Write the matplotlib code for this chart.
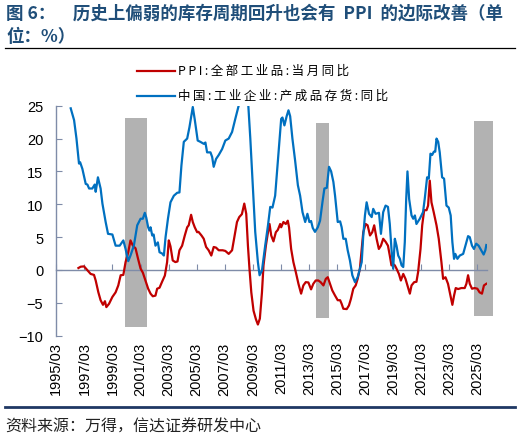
import matplotlib
matplotlib.use("Agg")
import matplotlib.pyplot as plt
from matplotlib.lines import Line2D

CJK = ['Noto Sans CJK SC', 'DejaVu Sans']
plt.rcParams['font.family'] = CJK
plt.rcParams['axes.unicode_minus'] = True

# ---------------- data (decimal years) ----------------
inv_x = [1996.19, 1996.43, 1996.60, 1996.78, 1996.86, 1997.02, 1997.26, 1997.38, 1997.50, 1997.73,
         1997.90, 1997.97, 1998.13, 1998.32, 1998.45, 1998.68, 1998.85, 1999.16, 1999.39, 1999.68,
         1999.94, 2000.10, 2000.29, 2000.45, 2000.69, 2000.93, 2001.17, 2001.33, 2001.47, 2001.57,
         2001.71, 2001.80, 2001.88, 2002.00, 2002.10, 2002.23, 2002.40, 2002.52, 2002.71, 2002.83,
         2002.95, 2003.12, 2003.30, 2003.54, 2003.78, 2003.94, 2004.08, 2004.25, 2004.49, 2004.65,
         2004.89, 2005.03, 2005.24, 2005.43, 2005.67, 2005.79, 2005.91, 2006.15, 2006.27, 2006.38,
         2006.55, 2006.74, 2006.98, 2007.21, 2007.45, 2007.69, 2007.92, 2008.16, 2008.35, 2008.55,
         2008.82, 2008.99, 2009.15, 2009.34, 2009.53, 2009.65, 2009.82, 2010.05, 2010.25, 2010.41,
         2010.57, 2010.76, 2011.02, 2011.19, 2011.28, 2011.42, 2011.58, 2011.71, 2011.83, 2011.99,
         2012.18, 2012.38, 2012.54, 2012.71, 2012.90, 2013.06, 2013.20, 2013.32, 2013.44, 2013.60,
         2013.80, 2013.96, 2014.13, 2014.27, 2014.44, 2014.60, 2014.75, 2014.91, 2015.03, 2015.22,
         2015.39, 2015.50, 2015.62, 2015.79, 2015.93, 2016.09, 2016.26, 2016.45, 2016.64, 2016.80,
         2016.93, 2017.04, 2017.16, 2017.28, 2017.45, 2017.64, 2017.75, 2017.92, 2018.16, 2018.30,
         2018.46, 2018.63, 2018.80, 2018.93, 2019.05, 2019.17, 2019.29, 2019.41, 2019.53, 2019.65,
         2019.77, 2019.89, 2020.00, 2020.10, 2020.19, 2020.31, 2020.48, 2020.60, 2020.72, 2020.83,
         2021.07, 2021.30, 2021.42, 2021.59, 2021.71, 2021.83, 2021.95, 2022.07, 2022.17, 2022.26,
         2022.38, 2022.49, 2022.66, 2022.80, 2022.97, 2023.13, 2023.27, 2023.39, 2023.51, 2023.60,
         2023.75, 2023.92, 2024.16, 2024.32, 2024.51, 2024.63, 2024.79, 2024.93, 2025.09, 2025.26,
         2025.45, 2025.62, 2025.74, 2025.81]
inv_y = [24.6, 22.8, 20.0, 16.2, 16.4, 15.4, 13.1, 13.0, 12.4, 12.4,
         13.0, 11.9, 14.1, 12.4, 10.1, 7.3, 5.5, 5.4, 3.7, 3.7,
         4.5, 3.2, 1.35, 2.2, 3.7, 6.8, 7.8, 7.8, 8.7, 8.0,
         6.5, 6.0, 6.5, 5.25, 5.4, 3.7, 4.2, 2.7, 2.5, 2.2,
         5.0, 7.8, 10.3, 11.3, 11.75, 11.8, 15.9, 19.5, 20.0, 21.7,
         24.8, 22.9, 19.7, 19.5, 19.2, 19.4, 17.9, 17.9, 17.2, 15.7,
         16.9, 17.5, 18.4, 19.7, 20.0, 21.0, 23.0, 25.0, 27.5, 28.5,
         26.0, 20.0, 13.4, 5.8, 1.2, -0.8, -0.1, 3.7, 6.8, 9.6,
         9.5, 11.3, 18.4, 23.0, 23.2, 22.0, 23.4, 24.3, 23.4, 20.0,
         16.7, 12.9, 11.3, 8.8, 7.3, 8.55, 7.3, 7.45, 6.4, 5.8,
         6.5, 7.5, 10.3, 12.4, 12.5, 15.7, 15.0, 13.4, 11.3, 7.3,
         7.4, 6.5, 4.75, 4.75, 3.0, 1.45, -0.8, -1.85, -1.1, 0.2,
         1.2, 5.25, 8.3, 10.3, 8.55, 8.05, 9.3, 8.55, 8.7, 5.5,
         8.8, 9.8, 9.6, 7.0, 3.2, 0.2, 4.75, 3.7, 2.2, 1.7,
         0.7, 0.45, 4.25, 10.8, 15.0, 10.8, 8.3, 7.8, 8.3, 7.0,
         7.8, 8.8, 10.8, 14.1, 13.9, 17.7, 17.5, 18.0, 18.0, 20.0,
         19.5, 17.9, 14.1, 13.9, 9.8, 9.5, 8.3, 4.25, 1.7, 2.45,
         1.7, 2.2, 2.45, 3.7, 5.15, 5.0, 3.7, 3.2, 4.0, 3.7,
         3.0, 2.35, 3.0, 3.8]

ppi_x = [1996.74, 1996.90, 1997.14, 1997.38, 1997.61, 1997.85, 1997.97, 1998.16, 1998.32, 1998.49,
         1998.63, 1998.73, 1998.92, 1999.16, 1999.39, 1999.58, 1999.75, 1999.94, 2000.10, 2000.29,
         2000.45, 2000.62, 2000.81, 2000.99, 2001.17, 2001.33, 2001.52, 2001.71, 2001.88, 2002.04,
         2002.23, 2002.35, 2002.52, 2002.71, 2002.90, 2003.06, 2003.18, 2003.30, 2003.46, 2003.65,
         2003.80, 2003.94, 2004.13, 2004.32, 2004.49, 2004.60, 2004.77, 2004.89, 2005.03, 2005.20,
         2005.30, 2005.51, 2005.67, 2005.84, 2006.02, 2006.21, 2006.38, 2006.55, 2006.74, 2007.02,
         2007.21, 2007.45, 2007.69, 2007.87, 2008.04, 2008.20, 2008.39, 2008.56, 2008.70, 2008.82,
         2008.93, 2009.06, 2009.22, 2009.39, 2009.53, 2009.67, 2009.82, 2009.93, 2010.10, 2010.25,
         2010.36, 2010.48, 2010.64, 2010.81, 2010.95, 2011.12, 2011.19, 2011.35, 2011.52, 2011.66,
         2011.75, 2011.90, 2012.06, 2012.23, 2012.42, 2012.61, 2012.77, 2012.94, 2013.13, 2013.32,
         2013.48, 2013.65, 2013.84, 2014.00, 2014.20, 2014.37, 2014.51, 2014.67, 2014.83, 2015.03,
         2015.22, 2015.39, 2015.50, 2015.62, 2015.86, 2016.02, 2016.16, 2016.33, 2016.50, 2016.64,
         2016.80, 2016.93, 2017.04, 2017.21, 2017.35, 2017.52, 2017.68, 2017.82, 2017.99, 2018.15,
         2018.30, 2018.46, 2018.63, 2018.80, 2018.93, 2019.05, 2019.17, 2019.29, 2019.41, 2019.58,
         2019.72, 2019.89, 2020.05, 2020.19, 2020.36, 2020.48, 2020.67, 2020.83, 2020.95, 2021.12,
         2021.24, 2021.38, 2021.55, 2021.66, 2021.78, 2021.90, 2022.06, 2022.26, 2022.42, 2022.61,
         2022.73, 2022.90, 2023.08, 2023.25, 2023.39, 2023.51, 2023.63, 2023.80, 2024.03, 2024.27,
         2024.39, 2024.51, 2024.63, 2024.79, 2024.98, 2025.17, 2025.33, 2025.50, 2025.64, 2025.81]
ppi_y = [0.3, 0.5, 0.55, -0.05, -0.6, -0.75, -1.6, -3.4, -4.6, -5.3,
         -4.75, -5.65, -5.15, -4.1, -3.4, -2.35, -0.8, -0.75, 1.2, 2.7,
         4.5, 3.7, 3.3, 1.7, 0.2, -0.4, -1.6, -2.85, -3.6, -4.0,
         -3.9, -2.85, -2.7, -1.75, -0.85, 1.2, 4.5, 3.6, 1.45, 1.2,
         1.3, 3.0, 3.7, 5.25, 6.5, 6.8, 8.4, 7.3, 6.5, 5.75,
         5.8, 5.25, 4.75, 3.5, 3.0, 2.2, 3.5, 3.4, 3.0, 3.0,
         2.9, 2.45, 3.0, 5.25, 7.3, 8.05, 8.5, 10.1, 8.55, 3.7,
         0.2, -3.4, -6.2, -7.5, -8.3, -7.4, -3.4, 0.7, 3.7, 5.75,
         7.0, 5.25, 4.35, 5.75, 6.1, 7.0, 6.5, 7.3, 7.0, 7.5,
         6.5, 3.2, 1.2, -0.3, -2.1, -3.6, -2.35, -1.85, -1.9, -2.95,
         -2.1, -1.6, -1.6, -1.85, -2.35, -1.35, -1.1, -2.1, -3.1, -3.9,
         -4.6, -4.6, -5.15, -5.9, -5.95, -5.4, -4.4, -2.85, -2.35, -1.35,
         0.2, 3.2, 5.75, 7.0, 6.8, 5.25, 5.75, 6.8, 4.75, 3.2,
         3.7, 4.75, 4.3, 3.7, 2.2, 0.7, 0.9, 0.7, 0.2, -0.6,
         -1.6, -0.6, -1.35, -2.35, -3.6, -2.35, -1.85, -1.8, -0.3, 3.2,
         6.8, 9.1, 9.1, 9.8, 13.6, 10.3, 8.8, 6.8, 4.75, 1.2,
         -1.35, -1.1, -2.1, -3.9, -5.3, -3.9, -2.75, -2.9, -2.75, -2.75,
         -2.1, -0.8, -2.1, -2.85, -2.75, -2.85, -3.4, -3.6, -2.35, -2.1]

band_start = [2000.03, 2013.68, 2024.93]
band_end = [2001.64, 2014.62, 2026.28]
band_top = [23.2, 22.3, 22.6]
band_bottom = [-8.6, -7.3, -7.0]

tick_years = list(range(1995, 2026, 2))
tick_labels = [f"{y}/03" for y in tick_years]
yticks = [-10, -5, 0, 5, 10, 15, 20, 25]

ppi_label = "PPI:全部工业品:当月同比"
inv_label = "中国:工业企业:产成品存货:同比"
title1 = "图 6：\u3000历史上偏弱的库存周期回升也会有  PPI  的边际改善（单"
title2 = "位：%）"
source = "资料来源：万得，信达证券研发中心"

# ---------------- styles ----------------
RED = '#C00000'
BLUE = '#0070C0'
GRAY = '#B2B2B2'
AXC = '#7F8CA8'
TITLE_C = '#1F4E79'
W, H = 520, 439


def sp(s):
    return '\u2009'.join(s)


fig = plt.figure(figsize=(W / 100, H / 100), dpi=100)
ax = fig.add_axes([55.7 / W, (H - 336.7) / H, (487.3 - 55.7) / W, 230 / H])

ax.bar(band_start, [t - b for t, b in zip(band_top, band_bottom)], bottom=band_bottom,
       width=[e - s for s, e in zip(band_start, band_end)], align='edge',
       color=GRAY, zorder=1, clip_on=False, linewidth=0)
ax.plot(ppi_x, ppi_y, color=RED, lw=1.6, zorder=3)
ax.plot(inv_x, inv_y, color=BLUE, lw=1.6, zorder=3)

ax.set_xlim(1995.12, 2025.88)
ax.set_ylim(-10, 25)
ax.set_yticks(yticks)
ax.set_yticklabels([str(v).replace('-', '\u2212') for v in yticks],
                   fontfamily='Liberation Sans', fontsize=10.5)

for s in ['top', 'right']:
    ax.spines[s].set_visible(False)
ax.spines['left'].set_color(AXC)
ax.spines['bottom'].set_color(AXC)
ax.spines['bottom'].set_position(('data', 0))
ax.spines['left'].set_linewidth(1.0)
ax.spines['bottom'].set_linewidth(1.0)

xt = [y + 2 / 12 for y in tick_years]
ax.set_xticks(xt)
ax.tick_params(axis='x', direction='in', length=4, color=AXC, labelbottom=False)
ax.tick_params(axis='y', direction='in', length=4, color=AXC, pad=9, labelcolor='black')

sec = ax.secondary_xaxis(0)
sec.set_xticks(xt)
sec.set_xticklabels(tick_labels, rotation=90, fontfamily='Liberation Sans', fontsize=10.5)
sec.tick_params(length=0, pad=4)
sec.spines['bottom'].set_visible(False)

# title
fig.text(6 / W, 1 - 14 / H, title1, fontsize=12.6, fontweight='bold', color=TITLE_C,
         va='center', ha='left', family=CJK)
fig.text(6 / W, 1 - 37 / H, title2, fontsize=12.6, fontweight='bold', color=TITLE_C,
         va='center', ha='left', family=CJK)
fig.add_artist(Line2D([5 / W, 515 / W], [1 - 49 / H, 1 - 49 / H], color='black', lw=0.9))

# legend
for yy, c, lab in [(71.7, RED, ppi_label), (96.7, BLUE, inv_label)]:
    fig.add_artist(Line2D([137 / W, 175 / W], [1 - yy / H, 1 - yy / H], color=c, lw=1.6))
    fig.text(178 / W, 1 - yy / H, sp(lab), fontsize=9, va='center', ha='left', family=CJK)

# footer
fig.add_artist(Line2D([5 / W, 515 / W], [1 - 408 / H, 1 - 408 / H], color='#1F3864', lw=2.0))
fig.text(5 / W, 1 - 427 / H, source, fontsize=11.5, style='italic', va='center', ha='left',
         family=CJK, color='#222222')

fig.savefig('out.png', dpi=100)
